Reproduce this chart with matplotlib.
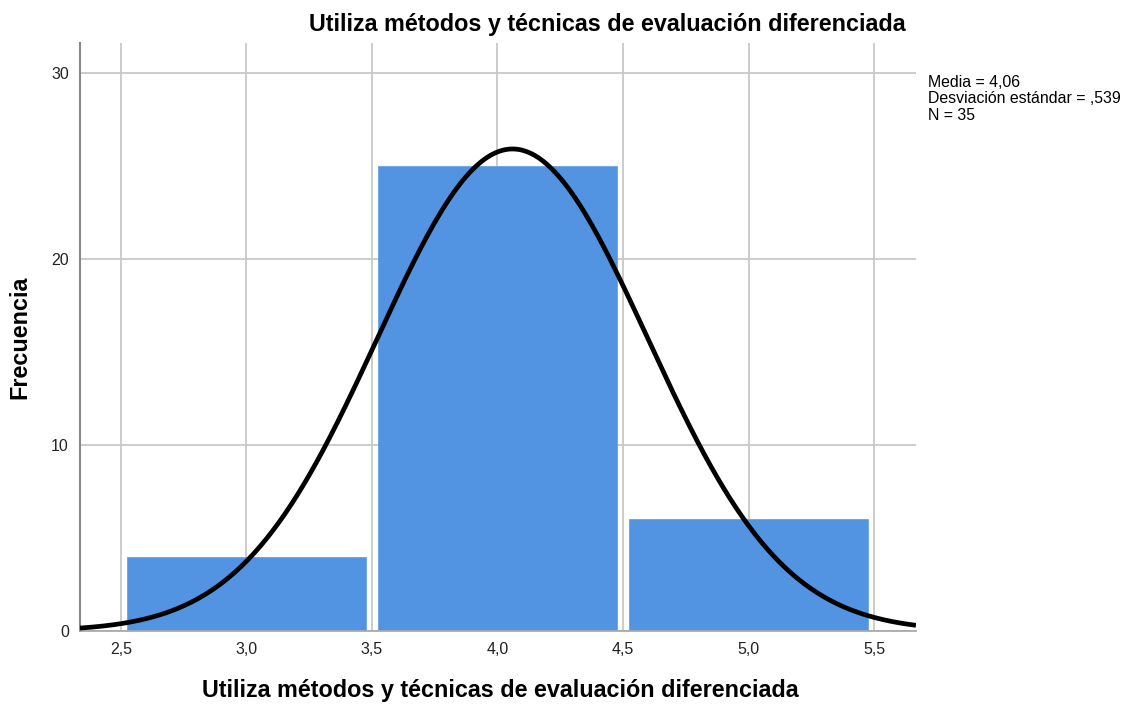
import numpy as np
import matplotlib
matplotlib.use("Agg")
import matplotlib.pyplot as plt

plt.rcParams['font.family'] = ['Liberation Sans', 'DejaVu Sans']

# Histograma: límites de las clases y frecuencias
bordes = [2.5, 3.5, 4.5, 5.5]
frecuencias = [4, 25, 6]

media = 4.06
desviacion = 0.539
n = 35

titulo = 'Utiliza métodos y técnicas de evaluación diferenciada'
x_ticks = [2.5, 3.0, 3.5, 4.0, 4.5, 5.0, 5.5]
x_labels = ['2,5', '3,0', '3,5', '4,0', '4,5', '5,0', '5,5']
y_ticks = [0, 10, 20, 30]

fig = plt.figure(figsize=(11.25, 7.05), dpi=100)
ax = fig.add_axes([0.0711, 0.105, 0.7431, 0.834])

x_min, x_max = 2.337, 5.667
ax.set_xlim(x_min, x_max)
ax.set_ylim(0, 31.6)

# Rejilla detrás de las barras
ax.set_axisbelow(True)
ax.grid(True, color='#c8c8c8', linewidth=1.3)

hueco = 0.025
for i, f in enumerate(frecuencias):
    izq = bordes[i] + hueco
    ancho = bordes[i + 1] - bordes[i] - 2 * hueco
    ax.bar(izq, f, width=ancho, align='edge', color='#5294e2',
           edgecolor='#6aa3e6', linewidth=0.6, zorder=2)

# Curva normal escalada al ancho de clase
ancho_clase = bordes[1] - bordes[0]
xs = np.linspace(x_min, x_max, 400)
ys = n * ancho_clase / (desviacion * np.sqrt(2 * np.pi)) * \
    np.exp(-0.5 * ((xs - media) / desviacion) ** 2)
ax.plot(xs, ys, color='black', linewidth=3.4, zorder=3, solid_capstyle='butt')

ax.set_xticks(x_ticks)
ax.set_xticklabels(x_labels)
ax.set_yticks(y_ticks)
ax.tick_params(axis='both', length=0, labelsize=11.5, colors='#222222', pad=8)

for lado in ['top', 'right']:
    ax.spines[lado].set_visible(False)
ax.spines['left'].set_color('#888888')
ax.spines['left'].set_linewidth(1.5)
ax.spines['bottom'].set_color('#aaaaaa')
ax.spines['bottom'].set_linewidth(1.3)

# Etiquetas de ejes y título
fig.text(500 / 1125, 1 - 690 / 705, titulo, fontsize=16.8, fontweight='bold',
         ha='center', va='center')
fig.text(20 / 1125, 1 - 337 / 705, 'Frecuencia', fontsize=16.8,
         fontweight='bold', ha='center', va='center', rotation=90)
fig.text(607 / 1125, 1 - 25 / 705, titulo, fontsize=16.8, fontweight='bold',
         ha='center', va='center')

fig.text(928 / 1125, 1 - 75 / 705,
         'Media = 4,06\nDesviación estándar = ,539\nN = 35',
         fontsize=11.4, ha='left', va='top', linespacing=1.12)

fig.savefig('out.png', dpi=100)
